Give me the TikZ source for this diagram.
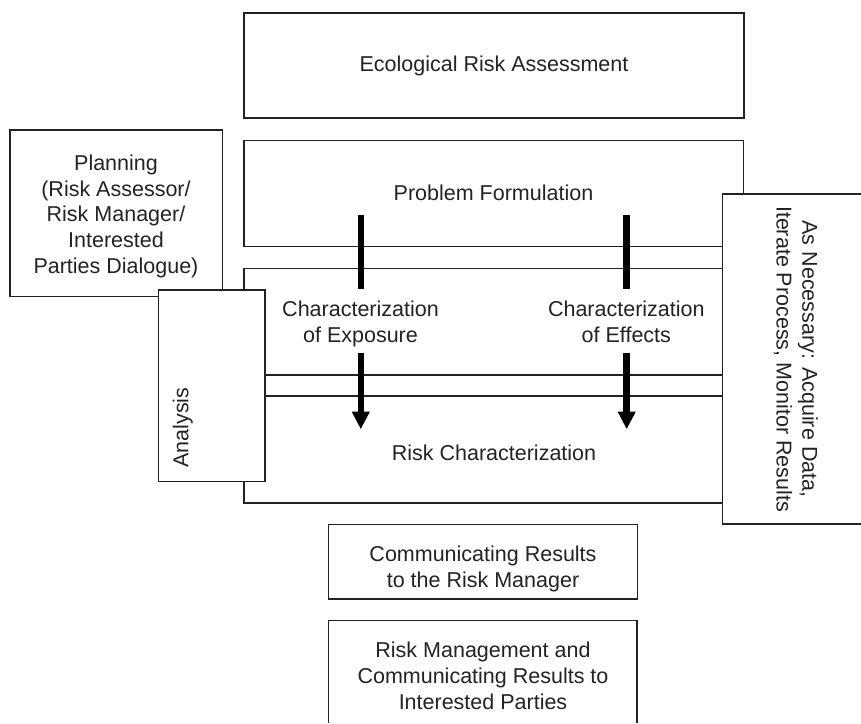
\documentclass[tikz,border=0pt]{standalone}
\usepackage{fontspec}
\setmainfont{Liberation Sans}
\usetikzlibrary{arrows.meta,fit}
\definecolor{ink}{RGB}{35,35,35}
\begin{document}
\begin{tikzpicture}[x=1pt,y=-1pt,
  box/.style={draw=ink,line width=1.5pt,inner sep=0pt,outer sep=0pt,rectangle},
  openbox/.style={fill=white,inner sep=0pt,outer sep=0pt,rectangle},
  boxline/.style={draw=ink,line width=1.5pt},
  lbl/.style={text=ink,font=\fontsize{21.5}{25.8}\selectfont,inner sep=0pt,align=center},
  bar/.style={line width=6.5pt,black},
  downarrow/.style={line width=6.5pt,black,-{Triangle[length=17.6pt,width=16.7pt]}}]
\useasboundingbox[fill=white] (0,0) rectangle (861,723);

% main boxes
\node[box,fit={(244,13) (744,118)}] (eco) {};
\node[box,fit={(244,140.7) (743.3,246.7)}] (pf) {};
\node[box,fit={(244,268.3) (743.3,396)}] (an) {};
\node[box,fit={(244,375) (743.3,503)}] (rc) {};
\node[box,fill=white,fit={(10,130) (222.7,296.7)}] (plan) {};
\node[box,fill=white,fit={(158.5,290) (265.2,481.7)}] (anbox) {};
\node[openbox,fit={(722.7,194) (861,524)}] (iter) {};
\draw[boxline] (iter.north east) -- (iter.north west) -- (iter.south west) -- (iter.south east);
\node[box,fit={(328.7,524.3) (637.3,599)}] (comm) {};
\node[openbox,fit={(328.7,620.7) (637,723)}] (rm) {};
\draw[boxline] (rm.south west) -- (rm.north west) -- (rm.north east) -- (rm.south east);

% bars and arrows
\coordinate (ex1) at (360.8,215);
\coordinate (ex2) at (360.8,289.3);
\coordinate (ex3) at (360.8,353.3);
\coordinate (ex4) at (360.8,429.3);
\coordinate (ef1) at (626.7,215);
\coordinate (ef2) at (626.7,289.3);
\coordinate (ef3) at (626.7,353.3);
\coordinate (ef4) at (626.7,429.3);
\draw[bar] (ex1) -- (ex2);
\draw[bar] (ef1) -- (ef2);
\draw[downarrow] (ex3) -- (ex4);
\draw[downarrow] (ef3) -- (ef4);

% texts
\node[lbl,anchor=base] (ecotext) at (494,71.7) {Ecological Risk Assessment};
\node[lbl,anchor=base] (pftext) at (493.5,200) {Problem Formulation};
\node[lbl,anchor=base] (rctext) at (494,460) {Risk Characterization};
\node[lbl] (plantext) at (116,216.3) {Planning\\(Risk Assessor/\\Risk Manager/\\Interested\\Parties Dialogue)};
\node[lbl] (expotext) at (360.5,324.3) {Characterization\\of Exposure};
\node[lbl] (efftext) at (626.3,322) {Characterization\\of Effects};
\node[lbl] (commtext) at (483,569.3) {Communicating Results\\to the Risk Manager};
\node[lbl] (rmtext) at (483,676.1) {Risk Management and\\Communicating Results to\\Interested Parties};
\node[lbl,rotate=90] (anatext) at (182.9,427.7) {Analysis};
\node[lbl,rotate=-90] (itertext) at (796,359) {As Necessary: Acquire Data,\\Iterate Process, Monitor Results};
\end{tikzpicture}
\end{document}
